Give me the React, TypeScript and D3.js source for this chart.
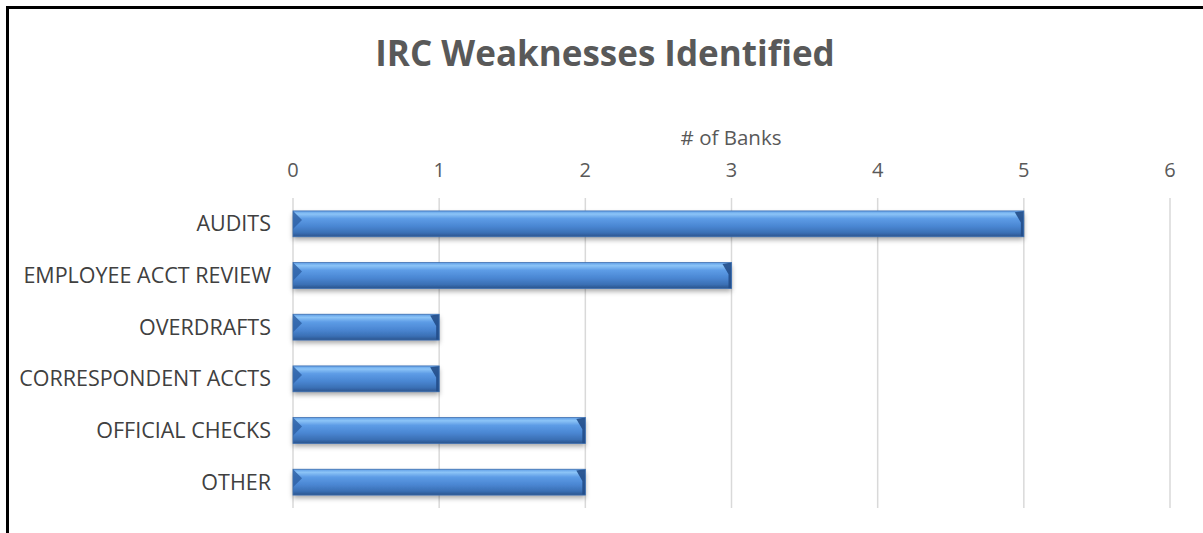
import React, { useEffect, useRef } from 'react';
import * as d3 from 'd3';

// Datos del gráfico
const categories = ['AUDITS', 'EMPLOYEE ACCT REVIEW', 'OVERDRAFTS', 'CORRESPONDENT ACCTS', 'OFFICIAL CHECKS', 'OTHER'];
const banks = [5, 3, 1, 1, 2, 2];
const ticks = [0, 1, 2, 3, 4, 5, 6];

const W = 1203;
const H = 533;
const margin = { top: 198, right: 33, bottom: 25, left: 293 };
const font = '"Open Sans", Lato, sans-serif';

const App = () => {
    const svgRef = useRef<SVGSVGElement | null>(null);

    useEffect(() => {
        const svg = d3.select(svgRef.current);
        svg.selectAll('*').remove();

        const x = d3.scaleLinear().domain([0, 6]).range([margin.left, W - margin.right]);
        const y = d3.scaleBand().domain(categories).range([margin.top, H - margin.bottom]).paddingInner(0.5).paddingOuter(0.25);

        const defs = svg.append('defs');
        const grad = defs.append('linearGradient').attr('id', 'barGrad').attr('x1', 0).attr('y1', 0).attr('x2', 0).attr('y2', 1);
        [
            [0, '#5f9ee6'], [0.12, '#8cc4f7'], [0.3, '#5d9ce6'], [0.6, '#4a86d2'], [0.85, '#3a6fb4'], [1, '#2b548c']
        ].forEach(([o, c]) => grad.append('stop').attr('offset', o as number).attr('stop-color', c as string));

        const shadow = defs.append('filter').attr('id', 'shadow').attr('x', '-5%').attr('y', '-50%').attr('width', '110%').attr('height', '220%');
        shadow.append('feDropShadow').attr('dx', 0).attr('dy', 3).attr('stdDeviation', 2.5).attr('flood-color', '#000').attr('flood-opacity', 0.35);

        // Marco
        svg.append('path')
            .attr('d', `M7.5,${H} L7.5,7.5 L${W},7.5`)
            .attr('fill', 'none').attr('stroke', '#000').attr('stroke-width', 3);

        // Título
        svg.append('text')
            .attr('x', 605).attr('y', 66)
            .attr('text-anchor', 'middle')
            .style('font-family', font).style('font-weight', 'bold').style('font-size', '35px')
            .style('fill', '#595959')
            .text('IRC Weaknesses Identified');

        // Título del eje
        svg.append('text')
            .attr('x', 731).attr('y', 145)
            .attr('text-anchor', 'middle')
            .style('font-family', font).style('font-size', '20.5px').style('fill', '#595959')
            .text('# of Banks');

        // Rejilla
        svg.append('g').selectAll('line').data(ticks).join('line')
            .attr('x1', d => x(d)).attr('x2', d => x(d))
            .attr('y1', margin.top).attr('y2', H - margin.bottom)
            .attr('stroke', '#d9d9d9').attr('stroke-width', 1.5);

        // Etiquetas del eje X
        svg.append('g').selectAll('text').data(ticks).join('text')
            .attr('x', d => x(d)).attr('y', 177)
            .attr('text-anchor', 'middle')
            .style('font-family', font).style('font-size', '20px').style('fill', '#595959')
            .text(d => d);

        // Etiquetas de categorías
        svg.append('g').selectAll('text').data(categories).join('text')
            .attr('x', 271).attr('y', d => (y(d) as number) + y.bandwidth() / 2 + 7.5)
            .attr('text-anchor', 'end')
            .style('font-family', font).style('font-size', '21.5px').style('fill', '#404040')
            .text(d => d);

        // Barras
        const bh = y.bandwidth();
        const bev = 9;
        const g = svg.append('g').selectAll('g').data(categories).join('g')
            .attr('transform', d => `translate(0,${y(d)})`);
        g.append('rect')
            .attr('x', x(0)).attr('y', 0)
            .attr('width', (d, i) => x(banks[i]) - x(0)).attr('height', bh)
            .attr('fill', 'url(#barGrad)')
            .attr('filter', 'url(#shadow)');
        // Biseles
        g.append('path')
            .attr('d', `M${x(0)},0 L${x(0) + bev},${bev} L${x(0)},${bh * 0.7} Z`)
            .attr('fill', '#2f62a6').attr('opacity', 0.85);
        g.append('path')
            .attr('d', (d, i) => {
                const xe = x(banks[i]);
                return `M${xe},0 L${xe},${bh} L${xe - 3},${bh} L${xe - 3},${bh * 0.45} L${xe - bev},${bh * 0.05} Z`;
            })
            .attr('fill', '#224d88').attr('opacity', 0.9);
        g.append('rect')
            .attr('x', x(0)).attr('y', 0)
            .attr('width', (d, i) => x(banks[i]) - x(0)).attr('height', bh)
            .attr('fill', 'none').attr('stroke', '#3d6fb0').attr('stroke-width', 0.8);
    }, []);

    return <svg ref={svgRef} width={W} height={H} style={{ position: 'absolute', left: 0, top: 0, background: '#fff' }} />;
};

export default App;
